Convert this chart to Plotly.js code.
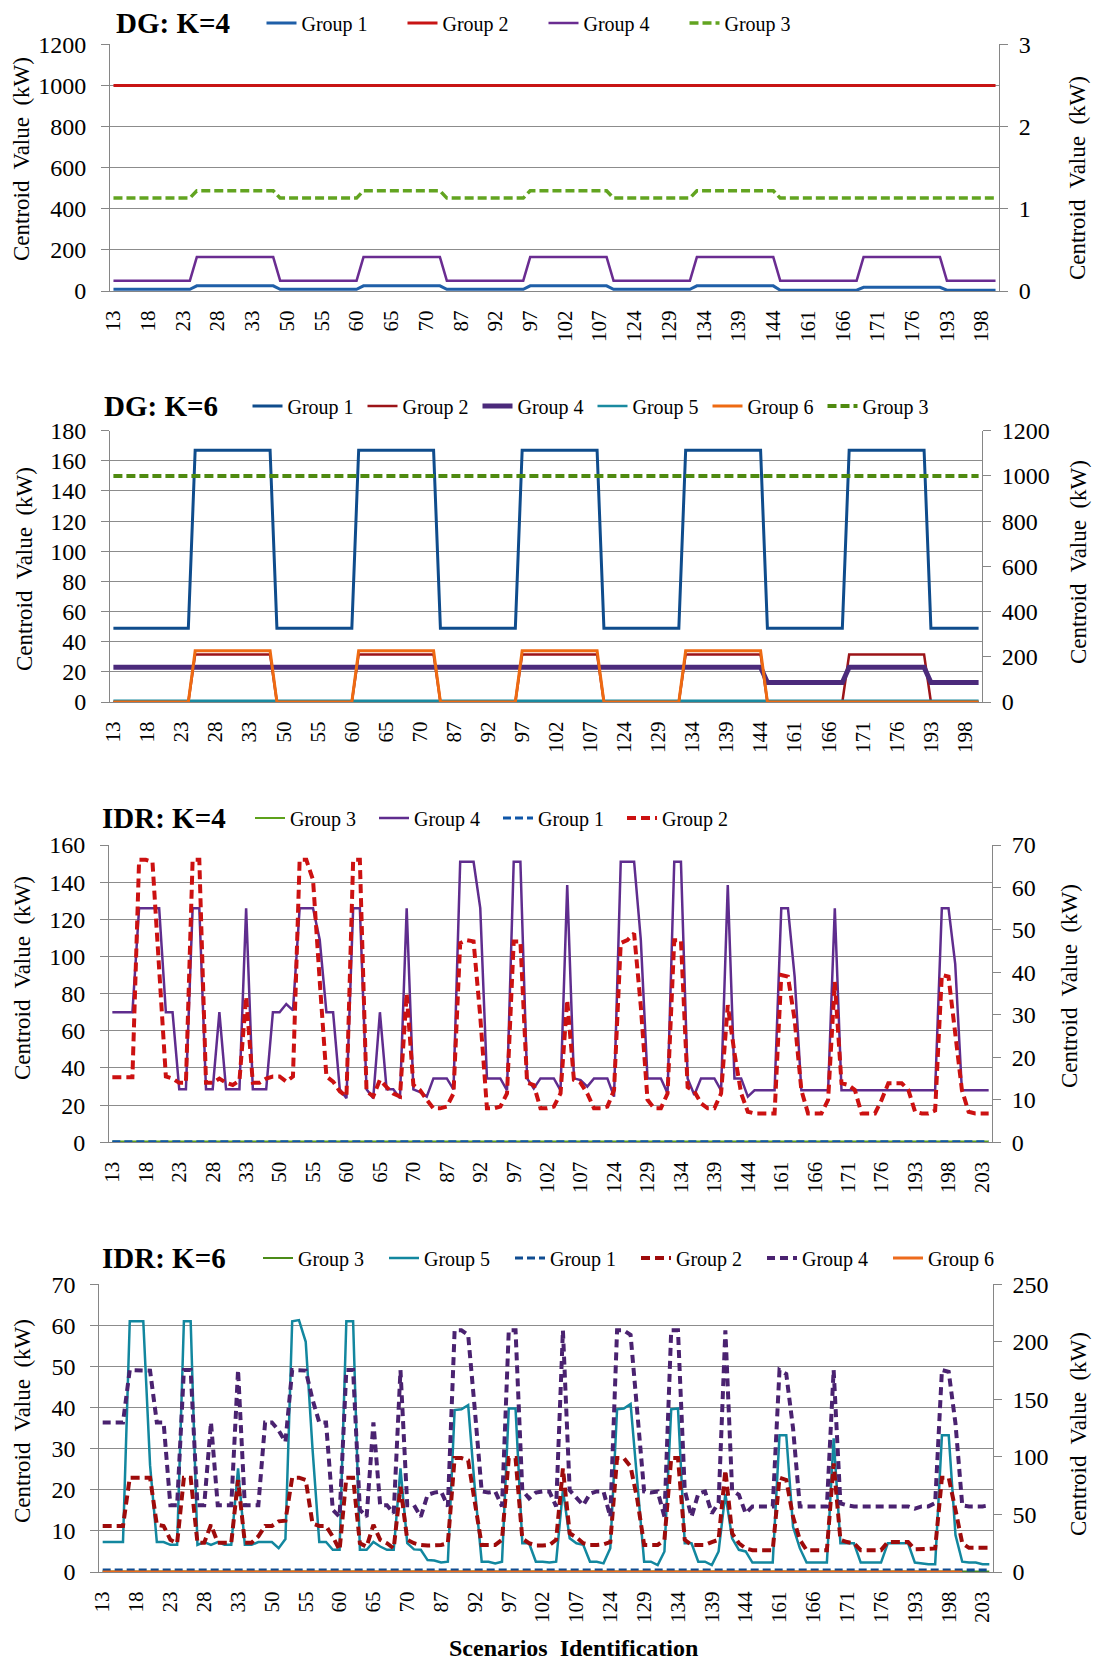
<!DOCTYPE html>
<html><head><meta charset="utf-8">
<script src="https://cdn.plot.ly/plotly-3.0.1.min.js"></script>
<style>html,body{margin:0;padding:0;background:#fff}#chart{width:1094px;height:1662px}</style>
</head><body><div id="chart"></div><script>
// ---------- categories (scenario IDs) ----------
const catsDG = ['13','14','15','16','17','18','19','20','21','22','23','24','25','26','27','28','29','30','31','32','33','34','35','36',
 '49','50','51','52','53','54','55','56','57','58','59','60','61','62','63','64','65','66','67','68','69','70','71','72',
 '85','86','87','88','89','90','91','92','93','94','95','96','97','98','99','100','101','102','103','104','105','106','107','108',
 '121','122','123','124','125','126','127','128','129','130','131','132','133','134','135','136','137','138','139','140','141','142','143','144',
 '157','158','159','160','161','162','163','164','165','166','167','168','169','170','171','172','173','174','175','176','177','178','179','180',
 '193','194','195','196','197','198','199','200'];
const catsIDR = ['13','14','15','16','17','18','19','20','21','22','23','24','25','26','27','28','29','30','31','32','33','34','35','36',
 '49','50','51','52','53','54','55','56','57','58','59','60','61','62','63','64','65','66','67','68','69','70','71','72',
 '85','86','87','88','89','90','91','92','93','94','95','96','97','98','99','100','101','102','103','104','105','106','107','108',
 '121','122','123','124','125','126','127','128','129','130','131','132','133','134','135','136','137','138','139','140','141','142','143','144',
 '157','158','159','160','161','162','163','164','165','166','167','168','169','170','171','172','173','174','175','176','177','178','179','180',
 '193','194','195','196','197','198','199','200','201','202','203','204'];
const ticksDG = ['13','18','23','28','33','50','55','60','65','70','87','92','97','102','107','124','129','134','139','144','161','166','171','176','193','198'];
const ticksIDR = ['13','18','23','28','33','50','55','60','65','70','87','92','97','102','107','124','129','134','139','144','161','166','171','176','193','198','203'];

// ---------- DG: K=4 ----------
const dg4_g1 = [8,8,8,8,8,8,8,8,8,8,8,8, 25,25,25,25,25,25,25,25,25,25,25,25,
 8,8,8,8,8,8,8,8,8,8,8,8, 25,25,25,25,25,25,25,25,25,25,25,25,
 8,8,8,8,8,8,8,8,8,8,8,8, 25,25,25,25,25,25,25,25,25,25,25,25,
 8,8,8,8,8,8,8,8,8,8,8,8, 25,25,25,25,25,25,25,25,25,25,25,25,
 4,4,4,4,4,4,4,4,4,4,4,4, 18,18,18,18,18,18,18,18,18,18,18,18,
 4,4,4,4,4,4,4,4];
const dg4_g2 = [1000,1000,1000,1000,1000,1000,1000,1000,1000,1000,1000,1000,1000,1000,1000,1000,1000,1000,1000,1000,1000,1000,1000,1000,
 1000,1000,1000,1000,1000,1000,1000,1000,1000,1000,1000,1000,1000,1000,1000,1000,1000,1000,1000,1000,1000,1000,1000,1000,
 1000,1000,1000,1000,1000,1000,1000,1000,1000,1000,1000,1000,1000,1000,1000,1000,1000,1000,1000,1000,1000,1000,1000,1000,
 1000,1000,1000,1000,1000,1000,1000,1000,1000,1000,1000,1000,1000,1000,1000,1000,1000,1000,1000,1000,1000,1000,1000,1000,
 1000,1000,1000,1000,1000,1000,1000,1000,1000,1000,1000,1000,1000,1000,1000,1000,1000,1000,1000,1000,1000,1000,1000,1000,
 1000,1000,1000,1000,1000,1000,1000,1000];
const dg4_g4 = [50,50,50,50,50,50,50,50,50,50,50,50, 165,165,165,165,165,165,165,165,165,165,165,165,
 50,50,50,50,50,50,50,50,50,50,50,50, 165,165,165,165,165,165,165,165,165,165,165,165,
 50,50,50,50,50,50,50,50,50,50,50,50, 165,165,165,165,165,165,165,165,165,165,165,165,
 50,50,50,50,50,50,50,50,50,50,50,50, 165,165,165,165,165,165,165,165,165,165,165,165,
 50,50,50,50,50,50,50,50,50,50,50,50, 165,165,165,165,165,165,165,165,165,165,165,165,
 50,50,50,50,50,50,50,50];
const dg4_g3 = [1.13,1.13,1.13,1.13,1.13,1.13,1.13,1.13,1.13,1.13,1.13,1.13, 1.22,1.22,1.22,1.22,1.22,1.22,1.22,1.22,1.22,1.22,1.22,1.22,
 1.13,1.13,1.13,1.13,1.13,1.13,1.13,1.13,1.13,1.13,1.13,1.13, 1.22,1.22,1.22,1.22,1.22,1.22,1.22,1.22,1.22,1.22,1.22,1.22,
 1.13,1.13,1.13,1.13,1.13,1.13,1.13,1.13,1.13,1.13,1.13,1.13, 1.22,1.22,1.22,1.22,1.22,1.22,1.22,1.22,1.22,1.22,1.22,1.22,
 1.13,1.13,1.13,1.13,1.13,1.13,1.13,1.13,1.13,1.13,1.13,1.13, 1.22,1.22,1.22,1.22,1.22,1.22,1.22,1.22,1.22,1.22,1.22,1.22,
 1.13,1.13,1.13,1.13,1.13,1.13,1.13,1.13,1.13,1.13,1.13,1.13, 1.13,1.13,1.13,1.13,1.13,1.13,1.13,1.13,1.13,1.13,1.13,1.13,
 1.13,1.13,1.13,1.13,1.13,1.13,1.13,1.13];

// ---------- DG: K=6 ----------
const dg6_g1 = [49,49,49,49,49,49,49,49,49,49,49,49, 167,167,167,167,167,167,167,167,167,167,167,167,
 49,49,49,49,49,49,49,49,49,49,49,49, 167,167,167,167,167,167,167,167,167,167,167,167,
 49,49,49,49,49,49,49,49,49,49,49,49, 167,167,167,167,167,167,167,167,167,167,167,167,
 49,49,49,49,49,49,49,49,49,49,49,49, 167,167,167,167,167,167,167,167,167,167,167,167,
 49,49,49,49,49,49,49,49,49,49,49,49, 167,167,167,167,167,167,167,167,167,167,167,167,
 49,49,49,49,49,49,49,49];
const dg6_g2 = [0,0,0,0,0,0,0,0,0,0,0,0, 31.5,31.5,31.5,31.5,31.5,31.5,31.5,31.5,31.5,31.5,31.5,31.5,
 0,0,0,0,0,0,0,0,0,0,0,0, 31.5,31.5,31.5,31.5,31.5,31.5,31.5,31.5,31.5,31.5,31.5,31.5,
 0,0,0,0,0,0,0,0,0,0,0,0, 31.5,31.5,31.5,31.5,31.5,31.5,31.5,31.5,31.5,31.5,31.5,31.5,
 0,0,0,0,0,0,0,0,0,0,0,0, 31.5,31.5,31.5,31.5,31.5,31.5,31.5,31.5,31.5,31.5,31.5,31.5,
 0,0,0,0,0,0,0,0,0,0,0,0, 31.5,31.5,31.5,31.5,31.5,31.5,31.5,31.5,31.5,31.5,31.5,31.5,
 0,0,0,0,0,0,0,0];
const dg6_g4 = [23,23,23,23,23,23,23,23,23,23,23,23,23,23,23,23,23,23,23,23,23,23,23,23,
 23,23,23,23,23,23,23,23,23,23,23,23,23,23,23,23,23,23,23,23,23,23,23,23,
 23,23,23,23,23,23,23,23,23,23,23,23,23,23,23,23,23,23,23,23,23,23,23,23,
 23,23,23,23,23,23,23,23,23,23,23,23,23,23,23,23,23,23,23,23,23,23,23,23,
 13,13,13,13,13,13,13,13,13,13,13,13, 23,23,23,23,23,23,23,23,23,23,23,23,
 13,13,13,13,13,13,13,13];
const dg6_g5 = [0.8,0.8,0.8,0.8,0.8,0.8,0.8,0.8,0.8,0.8,0.8,0.8,0.8,0.8,0.8,0.8,0.8,0.8,0.8,0.8,0.8,0.8,0.8,0.8,
 0.8,0.8,0.8,0.8,0.8,0.8,0.8,0.8,0.8,0.8,0.8,0.8,0.8,0.8,0.8,0.8,0.8,0.8,0.8,0.8,0.8,0.8,0.8,0.8,
 0.8,0.8,0.8,0.8,0.8,0.8,0.8,0.8,0.8,0.8,0.8,0.8,0.8,0.8,0.8,0.8,0.8,0.8,0.8,0.8,0.8,0.8,0.8,0.8,
 0.8,0.8,0.8,0.8,0.8,0.8,0.8,0.8,0.8,0.8,0.8,0.8,0.8,0.8,0.8,0.8,0.8,0.8,0.8,0.8,0.8,0.8,0.8,0.8,
 0.8,0.8,0.8,0.8,0.8,0.8,0.8,0.8,0.8,0.8,0.8,0.8,0.8,0.8,0.8,0.8,0.8,0.8,0.8,0.8,0.8,0.8,0.8,0.8,
 0.8,0.8,0.8,0.8,0.8,0.8,0.8,0.8];
const dg6_g6 = [0,0,0,0,0,0,0,0,0,0,0,0, 34,34,34,34,34,34,34,34,34,34,34,34,
 0,0,0,0,0,0,0,0,0,0,0,0, 34,34,34,34,34,34,34,34,34,34,34,34,
 0,0,0,0,0,0,0,0,0,0,0,0, 34,34,34,34,34,34,34,34,34,34,34,34,
 0,0,0,0,0,0,0,0,0,0,0,0, 34,34,34,34,34,34,34,34,34,34,34,34,
 0,0,0,0,0,0,0,0,0,0,0,0, 0,0,0,0,0,0,0,0,0,0,0,0,
 0,0,0,0,0,0,0,0];
const dg6_g3 = [1000,1000,1000,1000,1000,1000,1000,1000,1000,1000,1000,1000,1000,1000,1000,1000,1000,1000,1000,1000,1000,1000,1000,1000,
 1000,1000,1000,1000,1000,1000,1000,1000,1000,1000,1000,1000,1000,1000,1000,1000,1000,1000,1000,1000,1000,1000,1000,1000,
 1000,1000,1000,1000,1000,1000,1000,1000,1000,1000,1000,1000,1000,1000,1000,1000,1000,1000,1000,1000,1000,1000,1000,1000,
 1000,1000,1000,1000,1000,1000,1000,1000,1000,1000,1000,1000,1000,1000,1000,1000,1000,1000,1000,1000,1000,1000,1000,1000,
 1000,1000,1000,1000,1000,1000,1000,1000,1000,1000,1000,1000,1000,1000,1000,1000,1000,1000,1000,1000,1000,1000,1000,1000,
 1000,1000,1000,1000,1000,1000,1000,1000];

// ---------- IDR: K=4 ----------
const idr4_g3 = [0.4,0.4,0.4,0.4,0.4,0.4,0.4,0.4,0.4,0.4,0.4,0.4,0.4,0.4,0.4,0.4,0.4,0.4,0.4,0.4,0.4,0.4,0.4,0.4,
 0.4,0.4,0.4,0.4,0.4,0.4,0.4,0.4,0.4,0.4,0.4,0.4,0.4,0.4,0.4,0.4,0.4,0.4,0.4,0.4,0.4,0.4,0.4,0.4,
 0.4,0.4,0.4,0.4,0.4,0.4,0.4,0.4,0.4,0.4,0.4,0.4,0.4,0.4,0.4,0.4,0.4,0.4,0.4,0.4,0.4,0.4,0.4,0.4,
 0.4,0.4,0.4,0.4,0.4,0.4,0.4,0.4,0.4,0.4,0.4,0.4,0.4,0.4,0.4,0.4,0.4,0.4,0.4,0.4,0.4,0.4,0.4,0.4,
 0.4,0.4,0.4,0.4,0.4,0.4,0.4,0.4,0.4,0.4,0.4,0.4,0.4,0.4,0.4,0.4,0.4,0.4,0.4,0.4,0.4,0.4,0.4,0.4,
 0.4,0.4,0.4,0.4,0.4,0.4,0.4,0.4,0.4,0.4,0.4,0.4];
const idr4_g4 = [70,70,70,70,126,126,126,126,70,70,28.5,28.5,
 126,126,28.5,28.5,70,28.5,28.5,28.5,126,28.5,28.5,28.5,
 70,70,74.4,71,126,126,126,109,70,70,28.5,23.7,
 126,126,28.5,23.7,70,28.5,28.5,23.7,126,28.5,27,24.6,
 34.4,34.4,34.4,28.5,151,151,151,126,34.4,34.4,34.4,28,
 151,151,34.4,29,34.4,34.4,34.4,28,138.5,34.4,33.5,30,
 34.4,34.4,34.4,24.6,151,151,151,109,34.4,34.4,34.4,26.4,
 151,151,34.4,25.5,34.4,34.4,34.4,28,138.5,34.4,34.4,24.6,
 28,28,28,28,126,126,89,28,28,28,28,28,
 126,28,28,28,28,28,28,28,28,28,28,28,
 28,28,28,28,126,126,96,28,28,28,28,28];
const idr4_g1 = [0.15,0.15,0.15,0.15,0.15,0.15,0.15,0.15,0.15,0.15,0.15,0.15,0.15,0.15,0.15,0.15,0.15,0.15,0.15,0.15,0.15,0.15,0.15,0.15,
 0.15,0.15,0.15,0.15,0.15,0.15,0.15,0.15,0.15,0.15,0.15,0.15,0.15,0.15,0.15,0.15,0.15,0.15,0.15,0.15,0.15,0.15,0.15,0.15,
 0.15,0.15,0.15,0.15,0.15,0.15,0.15,0.15,0.15,0.15,0.15,0.15,0.15,0.15,0.15,0.15,0.15,0.15,0.15,0.15,0.15,0.15,0.15,0.15,
 0.15,0.15,0.15,0.15,0.15,0.15,0.15,0.15,0.15,0.15,0.15,0.15,0.15,0.15,0.15,0.15,0.15,0.15,0.15,0.15,0.15,0.15,0.15,0.15,
 0.15,0.15,0.15,0.15,0.15,0.15,0.15,0.15,0.15,0.15,0.15,0.15,0.15,0.15,0.15,0.15,0.15,0.15,0.15,0.15,0.15,0.15,0.15,0.15,
 0.15,0.15,0.15,0.15,0.15,0.15,0.15,0.15,0.15,0.15,0.15,0.15];
const idr4_g2 = [15.3,15.3,15.3,15.3,66.5,66.5,66,40,15.5,15,14,14,
 66.5,66.5,14,14,15,14,13.5,14.5,34.3,14,14,15,
 15.5,15.5,14.3,15.5,66.5,66.5,61.8,38,15.5,14.3,12,10.8,
 66.5,66.5,12,10.8,14.7,13,11.5,10.8,35,13.5,12.3,10,
 8,8,8.4,11.5,46.9,47.6,47.3,29.6,8,8,8.4,11.5,
 47.3,47.3,14,13.5,8,8,8.4,11.5,33.5,14.7,14,11.5,
 8,8,8.4,12.3,46.9,47.6,49.2,32,10,8,8,11.5,
 47.6,47.6,13,12,9.2,8,8,11.5,32.3,21,11.5,7.2,
 6.8,6.8,6.8,6.8,39.4,39,28.8,12.3,6.8,6.8,6.8,10,
 37.8,13.9,13.5,12.3,6.8,6.8,6.8,10,13.9,13.9,13.9,12.3,
 7.2,6.8,6.8,7.5,39.4,39,25.7,12.3,7.2,6.8,6.8,6.8];

// ---------- IDR: K=6 ----------
const idr6_g3 = [0.1,0.1,0.1,0.1,0.1,0.1,0.1,0.1,0.1,0.1,0.1,0.1,0.1,0.1,0.1,0.1,0.1,0.1,0.1,0.1,0.1,0.1,0.1,0.1,
 0.1,0.1,0.1,0.1,0.1,0.1,0.1,0.1,0.1,0.1,0.1,0.1,0.1,0.1,0.1,0.1,0.1,0.1,0.1,0.1,0.1,0.1,0.1,0.1,
 0.1,0.1,0.1,0.1,0.1,0.1,0.1,0.1,0.1,0.1,0.1,0.1,0.1,0.1,0.1,0.1,0.1,0.1,0.1,0.1,0.1,0.1,0.1,0.1,
 0.1,0.1,0.1,0.1,0.1,0.1,0.1,0.1,0.1,0.1,0.1,0.1,0.1,0.1,0.1,0.1,0.1,0.1,0.1,0.1,0.1,0.1,0.1,0.1,
 0.1,0.1,0.1,0.1,0.1,0.1,0.1,0.1,0.1,0.1,0.1,0.1,0.1,0.1,0.1,0.1,0.1,0.1,0.1,0.1,0.1,0.1,0.1,0.1,
 0.1,0.1,0.1,0.1,0.1,0.1,0.1,0.1,0.1,0.1,0.1,0.1];
const idr6_g5 = [7.3,7.3,7.3,7.3,61,61,61,26,7.3,7.3,6.6,6.6,
 61,61,6.6,7.3,6.6,7.3,6.6,6.6,25.2,6.6,6.6,7.3,
 7.3,7.3,5.8,8,61,61.3,56,30,7.3,7.3,5.4,5.4,
 61,61,5.4,5.4,7.3,6.2,5.4,5.4,25.2,7,5.5,5.4,
 2.9,2.8,2.3,2.5,39.4,39.6,40.6,20,2.5,2.5,2.1,2.5,
 39.8,39.8,7,7,2.5,2.5,2.3,2.5,20,8.2,7,6.6,
 2.5,2.5,2.1,5.8,39.6,39.8,40.9,21.6,2.5,2.5,1.7,5,
 39.6,39.8,7,7,2.5,2.5,1.7,5,19,8.2,5.4,5,
 2.3,2.3,2.3,2.3,33.3,33.3,11,5.8,2.3,2.3,2.3,2.3,
 32.5,7,7,7,2.3,2.3,2.3,2.3,7,7,7,7,
 2.3,2.1,1.9,1.9,33.3,33.3,9,2.5,2.3,2.3,1.9,1.9];
const idr6_g1 = [1.7,1.7,1.7,1.7,1.7,1.7,1.7,1.7,1.7,1.7,1.7,1.7,1.7,1.7,1.7,1.7,1.7,1.7,1.7,1.7,1.7,1.7,1.7,1.7,
 1.7,1.7,1.7,1.7,1.7,1.7,1.7,1.7,1.7,1.7,1.7,1.7,1.7,1.7,1.7,1.7,1.7,1.7,1.7,1.7,1.7,1.7,1.7,1.7,
 1.7,1.7,1.7,1.7,1.7,1.7,1.7,1.7,1.7,1.7,1.7,1.7,1.7,1.7,1.7,1.7,1.7,1.7,1.7,1.7,1.7,1.7,1.7,1.7,
 1.7,1.7,1.7,1.7,1.7,1.7,1.7,1.7,1.7,1.7,1.7,1.7,1.7,1.7,1.7,1.7,1.7,1.7,1.7,1.7,1.7,1.7,1.7,1.7,
 1.7,1.7,1.7,1.7,1.7,1.7,1.7,1.7,1.7,1.7,1.7,1.7,1.7,1.7,1.7,1.7,1.7,1.7,1.7,1.7,1.7,1.7,1.7,1.7,
 1.7,1.7,1.7,1.7,1.7,1.7,1.7,1.7,1.7,1.7,1.7,1.7];
const idr6_g2 = [40,40,40,40,82,82,82,82,41,40,28,25,
 82,82,25.5,25.5,41,25.5,25.5,25.5,80,25.5,25.5,31,
 40,40,44,44.6,82,82,80,42,40,40,30.7,19,
 82,82,25,22,41,28,25,20.5,74,28,25,23.5,
 23,23,23.5,25,99,99,97,60,23.5,23.5,23.5,28,
 99,99,29,25,23,23,23.5,28,90,33.6,30,25,
 23.5,23.5,24,26,99,99,91.5,62.6,23.5,23.5,23.5,28,
 99,99,28,23.5,23.5,23.5,26,28,88.5,33.6,25,20.5,
 19,19,19,19,82,80,48,28,19,19,19,19,
 94.4,28,26,25,19,19,19,19,26,26,26,26,
 19.7,19.7,19.7,20.5,82,82,54,25,21,21,21,21];
const idr6_g4 = [130,130,130,130,175.5,175.5,175.5,175,130,130,58,58,
 175.5,175.5,58,58,130,58,58,58,175.5,58,58,58,
 130,130,123,113,175.5,175.5,175,150,130,130,54,48,
 175.5,175.5,54,48,130,58,58,51,175.5,58,58,48,
 67,69,70,57,210,210,206,140,70,69,70,57,
 210,210,71,64,69,70,70,57,210,71,65,58,
 68,70,70,48,210,210,206,140,70,69,70,48,
 210,210,71,48,68,70,51,60,210,71,67,51,
 57,57,57,57,175.5,172,125,57,57,57,57,57,
 175.5,59.6,58,57,57,57,57,57,57,57,57,57,
 55,57,57,60,175.5,174,129,58,57,57,57,58];
const idr6_g6 = [0,0,0,0,0,0,0,0,0,0,0,0,0,0,0,0,0,0,0,0,0,0,0,0,
 0,0,0,0,0,0,0,0,0,0,0,0,0,0,0,0,0,0,0,0,0,0,0,0,
 0,0,0,0,0,0,0,0,0,0,0,0,0,0,0,0,0,0,0,0,0,0,0,0,
 0,0,0,0,0,0,0,0,0,0,0,0,0,0,0,0,0,0,0,0,0,0,0,0,
 0,0,0,0,0,0,0,0,0,0,0,0,0,0,0,0,0,0,0,0,0,0,0,0,
 0,0,0,0,0,0,0,0,null,null,null,null];

// ---------- drawing ----------
const FONT = 'Liberation Serif, Times New Roman, serif';
const W = 1094, H = 1662;
const fx = v => v / W, fy = v => 1 - v / H;

function ln(x, y, name, color, width, dash, xa, ya, legend) {
  return {type: 'scatter', mode: 'lines', x: x, y: y, name: name, xaxis: xa, yaxis: ya,
    legend: legend, line: {color: color, width: width, dash: dash || 'solid'},
    connectgaps: false, hoverinfo: 'skip'};
}

const traces = [
  // DG K=4
  ln(catsDG, dg4_g1, 'Group 1', '#1f5fa8', 3, null, 'x', 'y', 'legend'),
  ln(catsDG, dg4_g2, 'Group 2', '#c81414', 3, null, 'x', 'y', 'legend'),
  ln(catsDG, dg4_g4, 'Group 4', '#6a2c91', 2.5, null, 'x', 'y', 'legend'),
  ln(catsDG, dg4_g3, 'Group 3', '#62a420', 3.5, '9px,4px', 'x', 'y2', 'legend'),
  // DG K=6
  ln(catsDG, dg6_g1, 'Group 1', '#0f4c8c', 3, null, 'x2', 'y3', 'legend2'),
  ln(catsDG, dg6_g2, 'Group 2', '#9c1418', 2.5, null, 'x2', 'y3', 'legend2'),
  ln(catsDG, dg6_g4, 'Group 4', '#4b2a7b', 5, null, 'x2', 'y3', 'legend2'),
  ln(catsDG, dg6_g5, 'Group 5', '#1a8aa0', 2.5, null, 'x2', 'y3', 'legend2'),
  ln(catsDG, dg6_g6, 'Group 6', '#ee6a12', 3, null, 'x2', 'y3', 'legend2'),
  ln(catsDG, dg6_g3, 'Group 3', '#4f8a10', 4, '9px,4px', 'x2', 'y4', 'legend2'),
  // IDR K=4
  ln(catsIDR, idr4_g3, 'Group 3', '#5da11b', 2, null, 'x3', 'y5', 'legend3'),
  ln(catsIDR, idr4_g4, 'Group 4', '#5f2d8e', 2.5, null, 'x3', 'y5', 'legend3'),
  ln(catsIDR, idr4_g1, 'Group 1', '#0f56a8', 3, '8px,4px', 'x3', 'y6', 'legend3'),
  ln(catsIDR, idr4_g2, 'Group 2', '#cc1111', 4, '9px,5px', 'x3', 'y6', 'legend3'),
  // IDR K=6
  ln(catsIDR, idr6_g3, 'Group 3', '#4b8b18', 2, null, 'x4', 'y7', 'legend4'),
  ln(catsIDR, idr6_g5, 'Group 5', '#12879f', 2.5, null, 'x4', 'y7', 'legend4'),
  ln(catsIDR, idr6_g1, 'Group 1', '#0f4c91', 3, '8px,4px', 'x4', 'y8', 'legend4'),
  ln(catsIDR, idr6_g2, 'Group 2', '#9e0b0b', 4, '9px,5px', 'x4', 'y8', 'legend4'),
  ln(catsIDR, idr6_g4, 'Group 4', '#4a2270', 4, '8px,5px', 'x4', 'y8', 'legend4'),
  ln(catsIDR, idr6_g6, 'Group 6', '#ed6b1c', 3, null, 'x4', 'y8', 'legend4')
];

const AX = '#868686', GRID = '#8c8c8c';
function xAxis(l, r, cats, ticks, anchor) {
  return {domain: [fx(l), fx(r)], anchor: anchor, type: 'category', range: [-0.5, cats.length - 0.5],
    tickmode: 'array', tickvals: ticks, ticktext: ticks, tickangle: -90,
    tickfont: {family: FONT, size: 21, color: '#000'}, ticks: '', ticklabelstandoff: 10,
    showgrid: false, showline: true, linecolor: AX, linewidth: 1, zeroline: false, fixedrange: true};
}
function yAxis(top, bot, anchor, rng, dt) {
  return {domain: [fy(bot), fy(top)], anchor: anchor, range: rng, dtick: dt, tick0: 0, tickmode: 'linear',
    tickfont: {family: FONT, size: 24, color: '#000'}, ticks: 'outside', ticklen: 8, tickcolor: AX,
    ticklabelstandoff: 10, showgrid: true, gridcolor: GRID, gridwidth: 1, showline: true, linecolor: AX,
    linewidth: 1, zeroline: false, fixedrange: true};
}
function y2Axis(over, anchor, rng, dt) {
  return {overlaying: over, side: 'right', anchor: anchor, range: rng, dtick: dt, tick0: 0, tickmode: 'linear',
    tickfont: {family: FONT, size: 24, color: '#000'}, ticks: 'outside', ticklen: 8, tickcolor: AX,
    ticklabelstandoff: 6, showgrid: false, showline: true, linecolor: AX, linewidth: 1, zeroline: false, fixedrange: true};
}
function leg(xText, yc, ew) {
  return {orientation: 'h', x: fx(xText - 40), y: fy(yc), xanchor: 'left', yanchor: 'middle',
    font: {family: FONT, size: 20, color: '#000'}, bgcolor: 'rgba(0,0,0,0)', borderwidth: 0,
    entrywidth: ew, entrywidthmode: 'pixels', tracegroupgap: 0, itemclick: false};
}
function title(text, xl, yc) {
  return {text: '<b>' + text + '</b>', x: fx(xl), y: fy(yc), xref: 'paper', yref: 'paper',
    xanchor: 'left', yanchor: 'middle', showarrow: false, font: {family: FONT, size: 29, color: '#000'}};
}
function ytitle(xc, yc) {
  return {text: 'Centroid\u00a0 Value\u00a0 (kW)', x: fx(xc), y: fy(yc), xref: 'paper', yref: 'paper',
    xanchor: 'center', yanchor: 'middle', textangle: -90, showarrow: false,
    font: {family: FONT, size: 23, color: '#000'}};
}

const layout = {
  width: W, height: H, margin: {l: 0, r: 0, t: 0, b: 0}, paper_bgcolor: '#fff', plot_bgcolor: '#fff',
  showlegend: true,
  xaxis: xAxis(110, 999, catsDG, ticksDG, 'y'),
  yaxis: yAxis(44.3, 291, 'x', [0, 1200], 200),
  yaxis2: y2Axis('y', 'x', [0, 3], 1),
  xaxis2: xAxis(110, 982, catsDG, ticksDG, 'y3'),
  yaxis3: yAxis(430.7, 702, 'x2', [0, 180], 20),
  yaxis4: y2Axis('y3', 'x2', [0, 1200], 200),
  xaxis3: xAxis(109, 992, catsIDR, ticksIDR, 'y5'),
  yaxis5: yAxis(845, 1142.3, 'x3', [0, 160], 20),
  yaxis6: y2Axis('y5', 'x3', [0, 70], 10),
  xaxis4: xAxis(99.3, 992.7, catsIDR, ticksIDR, 'y7'),
  yaxis7: yAxis(1284.3, 1572, 'x4', [0, 70], 10),
  yaxis8: y2Axis('y7', 'x4', [0, 250], 50),
  legend: leg(301.5, 23, 96),
  legend2: leg(287.5, 406, 70),
  legend3: leg(290, 818, 79),
  legend4: leg(298, 1258, 81),
  annotations: [
    title('DG: K=4', 114, 23), title('DG: K=6', 102, 406),
    title('IDR: K=4', 100, 818), title('IDR: K=6', 100, 1258),
    ytitle(21, 159), ytitle(1077, 178),
    ytitle(24, 569), ytitle(1078, 562),
    ytitle(22, 978), ytitle(1070, 986),
    ytitle(22, 1421), ytitle(1078, 1434),
    {text: '<b>Scenarios\u00a0 Identification</b>', x: fx(573), y: fy(1648), xref: 'paper', yref: 'paper',
     xanchor: 'center', yanchor: 'middle', showarrow: false, font: {family: FONT, size: 24, color: '#000'}}
  ]
};

Plotly.newPlot('chart', traces, layout, {staticPlot: true, displayModeBar: false});
</script></body></html>
